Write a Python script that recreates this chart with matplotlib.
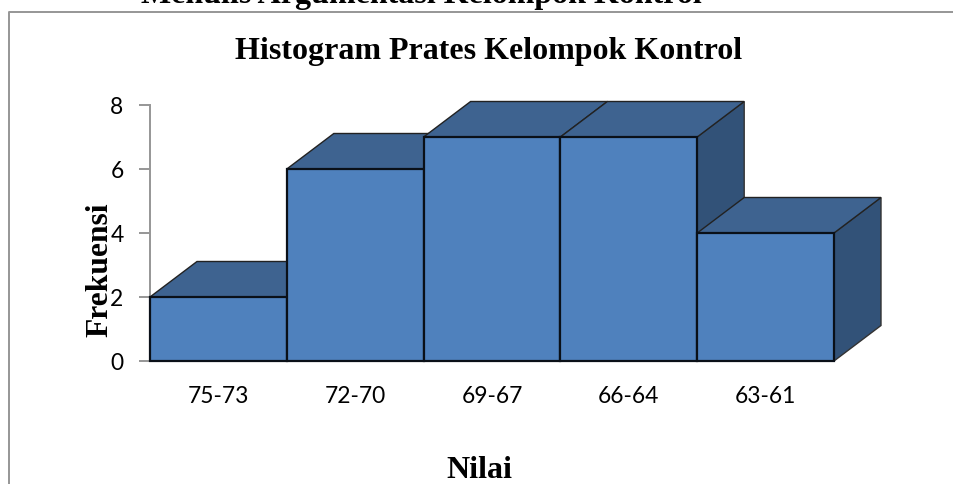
import matplotlib
matplotlib.use("Agg")
import matplotlib.pyplot as plt
from matplotlib.lines import Line2D

categories = ["75-73", "72-70", "69-67", "66-64", "63-61"]
freq = [2, 6, 7, 7, 4]
yticks = [0, 2, 4, 6, 8]

front_col = "#4f81bd"
top_col = "#3e6390"
side_col = "#325278"
frame_col = "#969696"

W, H = 954, 484
fig = plt.figure(figsize=(W/100, H/100), dpi=100)
fig.patch.set_facecolor("white")

# outer chart frame, only top and left are inside the crop
fig.add_artist(Line2D([9.5/W, 9.5/W, 1], [0, 1-11.5/H, 1-11.5/H], transform=fig.transFigure,
                      color=frame_col, lw=1.4))

ax = fig.add_axes([150/W, 1-361/H, (834-150)/W, (361-105)/H])
ax.set_xlim(-0.5, 4.5)
ax.set_ylim(0, 8)

# depth of the 3d box in data units
dx = 47/136.8
dy = 35.5/32

for i, v in enumerate(freq):
    l = i-0.5
    r = i+0.5
    z = 2+i*3
    ax.fill([r, r+dx, r+dx, r], [0, dy, v+dy, v], facecolor=side_col, edgecolor="#333333",
            lw=1.0, clip_on=False, zorder=z)
    ax.fill([l, l+dx, r+dx, r], [v, v+dy, v+dy, v], facecolor=top_col, edgecolor="#222222",
            lw=1.0, clip_on=False, zorder=z+1)
    ax.bar(i, v, width=1, facecolor=front_col, edgecolor="#0a1018", lw=1.6, clip_on=False, zorder=z+2)

for s in ["top", "right"]:
    ax.spines[s].set_visible(False)
for s in ["left", "bottom"]:
    ax.spines[s].set_color(frame_col)
    ax.spines[s].set_linewidth(1.4)

ax.set_xticks(range(5))
ax.set_xticklabels(categories, family="Lato", fontsize=16.4)
ax.set_yticks(yticks)
ax.set_yticklabels([str(t) for t in yticks], family="Lato", fontsize=16.4)
ax.tick_params(axis="x", length=0, pad=18)
ax.tick_params(axis="y", length=8, width=1.4, color=frame_col, pad=11)

fig.text(421/W, 1+4/H, "Menulis Argumentasi Kelompok Kontrol", family="Liberation Serif",
         weight="bold", fontsize=23, ha="center", va="center")
fig.text(489/W, 1-52/H, "Histogram Prates Kelompok Kontrol", family="Liberation Serif",
         weight="bold", fontsize=23, ha="center", va="center")
fig.text(100/W, 1-270/H, "Frekuensi", family="Liberation Serif", weight="bold", fontsize=22.7,
         rotation=90, ha="center", va="center", zorder=20)
fig.text(479.5/W, 1-470/H, "Nilai", family="Liberation Serif", weight="bold", fontsize=23,
         ha="center", va="center")

fig.savefig("out.png", dpi=100)
